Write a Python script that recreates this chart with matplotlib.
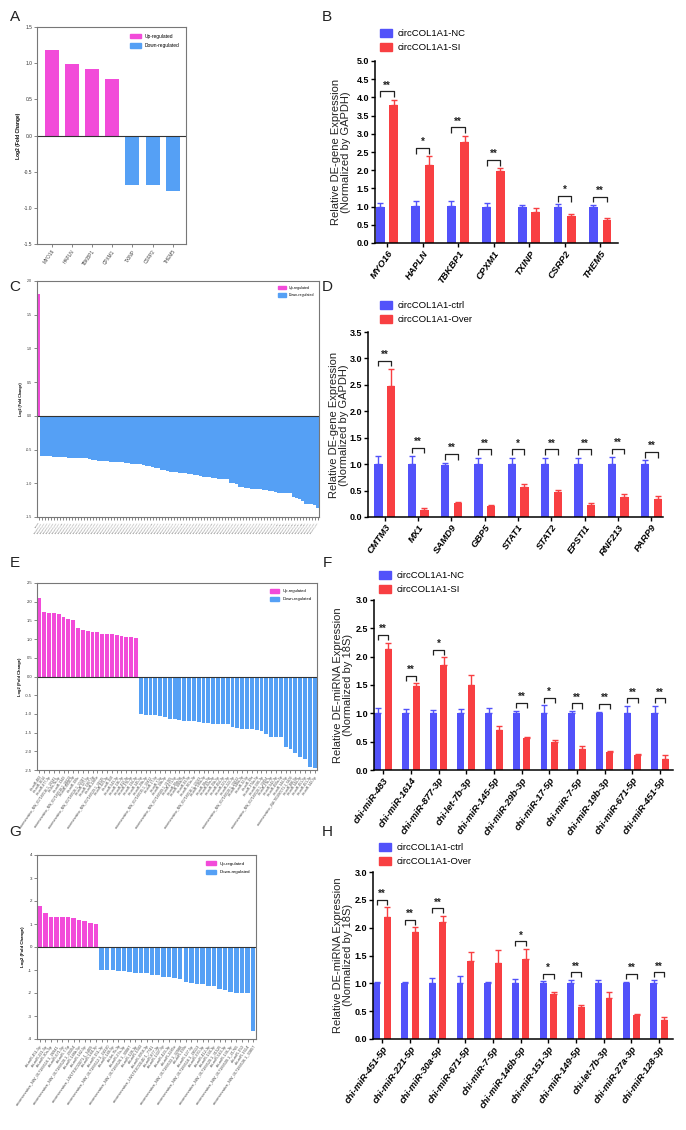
import matplotlib
matplotlib.use("Agg")
import matplotlib.pyplot as plt
from matplotlib.patches import Patch
import numpy as np

plt.rcParams['font.family'] = ['Liberation Sans', 'DejaVu Sans']

# ---------------- DATA ----------------
# Panel A
A_genes = ["MYO16", "HAPLN", "TBKBP1", "CPXM1", "TXINP", "CSRP2", "THEM5"]
A_log2fc = [1.18, 0.99, 0.92, 0.78, -0.68, -0.69, -0.77]

# Panel B
B_genes = ["MYO16", "HAPLN", "TBKBP1", "CPXM1", "TXINP", "CSRP2", "THEM5"]
B_nc = [1.0, 1.01, 1.01, 1.0, 1.0, 1.0, 1.0]
B_nc_err = [0.10, 0.14, 0.14, 0.11, 0.05, 0.06, 0.05]
B_si = [3.79, 2.15, 2.77, 1.98, 0.85, 0.74, 0.64]
B_si_err = [0.15, 0.23, 0.18, 0.07, 0.10, 0.06, 0.04]
B_sig = ["**", "*", "**", "**", "", "*", "**"]
B_groups = ["circCOL1A1-NC", "circCOL1A1-SI"]

# Panel C
C_up = [1.81]
C_down = [-0.59, -0.60, -0.60, -0.60, -0.61, -0.61, -0.61, -0.61, -0.61, -0.62,
          -0.62, -0.62, -0.62, -0.63, -0.63, -0.63, -0.64, -0.65, -0.66, -0.67,
          -0.67, -0.67, -0.67, -0.68, -0.68, -0.68, -0.69, -0.69, -0.70, -0.70,
          -0.71, -0.71, -0.72, -0.72, -0.73, -0.74, -0.75, -0.76, -0.77, -0.78,
          -0.80, -0.81, -0.82, -0.83, -0.84, -0.84, -0.85, -0.85, -0.85, -0.86,
          -0.86, -0.87, -0.88, -0.89, -0.90, -0.91, -0.91, -0.92, -0.92, -0.93,
          -0.93, -0.93, -0.94, -0.99, -1.00, -1.01, -1.05, -1.06, -1.07, -1.07,
          -1.08, -1.08, -1.08, -1.09, -1.10, -1.10, -1.11, -1.12, -1.13, -1.14,
          -1.14, -1.14, -1.14, -1.15, -1.20, -1.22, -1.24, -1.27, -1.30, -1.31,
          -1.31, -1.32, -1.36]
C_labels = ["CMTM3"] + ["novel_gene_%03d" % (k + 1) for k in range(len(C_down))]

# Panel D
D_genes = ["CMTM3", "MX1", "SAMD9", "GBP5", "STAT1", "STAT2", "EPSTI1", "RNF213", "PARP9"]
D_ctrl = [1.0, 1.0, 0.99, 1.0, 1.0, 1.0, 1.0, 1.0, 1.0]
D_ctrl_err = [0.15, 0.15, 0.04, 0.12, 0.12, 0.12, 0.12, 0.13, 0.07]
D_over = [2.47, 0.14, 0.27, 0.21, 0.56, 0.47, 0.23, 0.38, 0.35]
D_over_err = [0.33, 0.03, 0.02, 0.02, 0.07, 0.05, 0.03, 0.06, 0.04]
D_sig = ["**", "**", "**", "**", "*", "**", "**", "**", "**"]
D_groups = ["circCOL1A1-ctrl", "circCOL1A1-Over"]

# Panel E
E_up = [2.11, 1.73, 1.70, 1.70, 1.67, 1.59, 1.54, 1.51, 1.30, 1.25, 1.21,
        1.19, 1.18, 1.14, 1.14, 1.13, 1.11, 1.09, 1.06, 1.05, 1.04]
E_down = [-1.00, -1.02, -1.03, -1.04, -1.06, -1.07, -1.13, -1.13, -1.16, -1.18,
          -1.19, -1.20, -1.21, -1.23, -1.24, -1.26, -1.28, -1.28, -1.28, -1.34,
          -1.37, -1.41, -1.41, -1.41, -1.43, -1.45, -1.55, -1.63, -1.63, -1.63,
          -1.88, -1.93, -2.05, -2.14, -2.21, -2.42, -2.45]
E_labels = ["chi-miR-483", "chi-miR-1614", "chi-miR-877-3p", "unconservative_NW_017189516.1_26941",
            "chi-let-7b-3p", "chi-miR-1343", "unconservative_NW_017189518.1_28113", "chi-miR-3958-3p",
            "chi-miR-199c", "unconservative_NW_017189526.1_30087", "chi-miR-127-5p", "chi-miR-1307-5p",
            "chi-miR-2285e", "unconservative_NW_017189529.1_31525", "chi-miR-423-3p", "chi-miR-150",
            "chi-miR-543-3p", "chi-miR-136-3p", "chi-miR-412-3p", "chi-miR-370-3p", "chi-miR-134-3p",
            "chi-miR-145-5p", "chi-miR-29b-3p", "unconservative_NW_017189535.1_33412", "chi-miR-17-5p",
            "chi-miR-7-5p", "chi-miR-19b-3p", "unconservative_NW_017189509.1_21765", "chi-miR-671-5p",
            "chi-miR-20a-5p", "chi-miR-106b-5p", "chi-miR-93-5p", "chi-miR-301a-3p",
            "unconservative_NW_017189516.1_27013", "chi-miR-130a-3p", "chi-miR-18a-5p", "chi-miR-92a-3p",
            "chi-miR-15b-5p", "chi-miR-454-3p", "chi-miR-221-3p", "chi-miR-222-3p",
            "unconservative_NW_017189520.1_29312", "chi-miR-148a-3p", "chi-miR-32-5p", "chi-miR-19a",
            "chi-miR-374a-5p", "chi-miR-590-3p", "unconservative_NW_017189520.1_29354", "chi-miR-27b-3p",
            "chi-miR-542-3p", "chi-miR-450a-5p", "chi-miR-144-5p", "unconservative_LWLT01000071.1_5409",
            "chi-miR-486-5p", "chi-miR-144-3p", "chi-miR-451-5p", "chi-miR-451-3p", "chi-miR-142-5p"]

# Panel F
F_mirs = ["chi-miR-483", "chi-miR-1614", "chi-miR-877-3p", "chi-let-7b-3p", "chi-miR-145-5p",
          "chi-miR-29b-3p", "chi-miR-17-5p", "chi-miR-7-5p", "chi-miR-19b-3p",
          "chi-miR-671-5p", "chi-miR-451-5p"]
F_nc = [1.0, 1.0, 1.0, 1.0, 1.0, 1.0, 1.01, 1.0, 1.0, 1.01, 1.01]
F_nc_err = [0.10, 0.08, 0.06, 0.08, 0.09, 0.05, 0.13, 0.04, 0.03, 0.12, 0.12]
F_si = [2.14, 1.48, 1.85, 1.50, 0.70, 0.56, 0.50, 0.37, 0.31, 0.26, 0.20]
F_si_err = [0.11, 0.05, 0.14, 0.17, 0.08, 0.03, 0.03, 0.05, 0.03, 0.03, 0.07]
F_sig = ["**", "**", "*", "", "", "**", "*", "**", "**", "**", "**"]

# Panel G
G_up = [1.80, 1.47, 1.31, 1.31, 1.31, 1.31, 1.27, 1.17, 1.15, 1.04, 1.02]
G_down = [-1.01, -1.01, -1.02, -1.05, -1.05, -1.08, -1.12, -1.12, -1.15, -1.21,
          -1.21, -1.31, -1.31, -1.34, -1.41, -1.53, -1.58, -1.60, -1.61, -1.70,
          -1.70, -1.84, -1.86, -1.94, -2.00, -2.00, -2.00, -3.67]
G_labels = ["chi-miR-451-5p", "chi-miR-221-5p", "chi-miR-30a-5p", "unconservative_NW_017189516.1_26941",
            "chi-miR-671-5p", "chi-miR-7-5p", "unconservative_NW_017189520.1_29354", "chi-miR-146b-5p",
            "chi-miR-142-5p", "unconservative_LWLT01000071.1_5409", "chi-miR-144-3p",
            "chi-miR-151-3p", "unconservative_NW_017189512.1_24310", "chi-miR-149-5p", "chi-let-7b-3p",
            "chi-miR-27a-3p", "unconservative_NW_017189526.1_30087", "chi-miR-128-3p", "chi-miR-1343",
            "chi-miR-3958-3p", "unconservative_LWLT01000140.1_7741", "chi-miR-877-3p", "chi-miR-1307-5p",
            "chi-miR-423-3p", "chi-miR-2285e", "unconservative_NW_017189533.1_32980", "chi-miR-199c",
            "chi-miR-127-5p", "unconservative_NW_017189518.1_28113", "chi-miR-370-3p", "chi-miR-412-3p",
            "chi-miR-134-3p", "unconservative_NW_017189529.1_31525", "chi-miR-543-3p", "chi-miR-136-3p",
            "unconservative_NW_017189509.1_21765", "chi-miR-150", "chi-miR-1614",
            "unconservative_NW_017189536.1_33857"]

# Panel H
H_mirs = ["chi-miR-451-5p", "chi-miR-221-5p", "chi-miR-30a-5p", "chi-miR-671-5p", "chi-miR-7-5p",
          "chi-miR-146b-5p", "chi-miR-151-3p", "chi-miR-149-5p", "chi-let-7b-3p",
          "chi-miR-27a-3p", "chi-miR-128-3p"]
H_ctrl = [1.0, 1.0, 1.0, 1.01, 1.0, 1.0, 1.0, 1.0, 1.0, 1.0, 1.0]
H_ctrl_err = [0.03, 0.03, 0.10, 0.12, 0.03, 0.07, 0.04, 0.06, 0.06, 0.03, 0.06]
H_over = [2.20, 1.92, 2.11, 1.41, 1.37, 1.43, 0.80, 0.58, 0.74, 0.43, 0.34]
H_over_err = [0.17, 0.09, 0.10, 0.16, 0.23, 0.19, 0.05, 0.03, 0.11, 0.02, 0.06]
H_sig = ["**", "**", "**", "", "", "*", "*", "**", "", "**", "**"]

# ---------------- STYLE ----------------
UP = "#F24BD9"
DOWN = "#55A0F5"
BLUE = "#5252FA"
RED = "#F83F42"

W, H = 686, 1130
fig = plt.figure(figsize=(W / 100, H / 100), dpi=100)


def rect(x0, y0, x1, y1):
    return [x0 / W, 1 - y1 / H, (x1 - x0) / W, (y1 - y0) / H]


def fmt_tick(t, decimals):
    return ("%." + str(decimals) + "f") % t


def log2_panel(pos, labels, up, down, yticks, decimals, xlim, bw, tick_fs, lab_fs,
               leg_fs=3.5, ylab_fs=3.5):
    ax = fig.add_axes(pos)
    vals = list(up) + list(down)
    n = len(vals)
    x = np.arange(n)
    colors = [UP] * len(up) + [DOWN] * len(down)
    ax.bar(x, vals, width=bw, color=colors, edgecolor='none')
    ax.axhline(0, color='#333333', lw=0.8)
    ax.set_ylim(yticks[0], yticks[-1])
    ax.set_xlim(*xlim)
    ax.set_yticks(yticks)
    ax.set_yticklabels([fmt_tick(t, decimals) for t in yticks], fontsize=tick_fs, color='#333333')
    ax.set_xticks(x)
    labs = list(labels)[:n] + [""] * max(0, n - len(labels))
    ax.set_xticklabels(labs, rotation=55, ha='right', rotation_mode='anchor',
                       fontsize=lab_fs, color='#444444')
    for s in ax.spines.values():
        s.set_color('#777777')
        s.set_linewidth(0.8)
    ax.tick_params(axis='both', length=2, width=0.5, pad=1.5, color='#555555')
    ax.set_ylabel("Log2 (Fold Change)", fontsize=ylab_fs, fontweight='bold', labelpad=2)
    handles = [Patch(color=UP, label="Up-regulated"), Patch(color=DOWN, label="Down-regulated")]
    ax.legend(handles=handles, loc='upper right', fontsize=leg_fs, frameon=False,
              handlelength=2.2, handleheight=1.0, labelspacing=0.9, borderaxespad=1.0)
    return ax


def group_panel(pos, labels, a, a_err, b, b_err, sig, ylim, ystep, xlim, ylab,
                legend_labels, leg_xy):
    ax = fig.add_axes(pos)
    n = len(labels)
    x = np.arange(n)
    off = 0.19
    bw = 0.25
    ax.bar(x - off, a, width=bw, color=BLUE, edgecolor='none')
    ax.bar(x + off, b, width=bw, color=RED, edgecolor='none')
    ax.errorbar(x - off, a, yerr=[np.zeros(n), a_err], fmt='none', ecolor=BLUE,
                elinewidth=1.0, capsize=2.2, capthick=1.0)
    ax.errorbar(x + off, b, yerr=[np.zeros(n), b_err], fmt='none', ecolor=RED,
                elinewidth=1.0, capsize=2.2, capthick=1.0)
    ymax = ylim[1]
    for i in range(n):
        if not sig[i]:
            continue
        top = max(a[i] + a_err[i], b[i] + b_err[i])
        yb = top + 0.045 * ymax
        d = 0.03 * ymax
        ax.plot([i - off, i - off, i + off, i + off], [yb - d, yb, yb, yb - d],
                color='#222222', lw=0.9, solid_capstyle='butt')
        ax.text(i, yb + 0.005 * ymax, sig[i], ha='center', va='bottom', fontsize=7,
                fontweight='bold', color='#222222')
    ax.set_ylim(*ylim)
    ax.set_xlim(*xlim)
    yt = np.arange(0, ylim[1] + 1e-6, ystep)
    ax.set_yticks(yt)
    ax.set_yticklabels(["%.1f" % t for t in yt], fontsize=6.5, fontweight='bold')
    ax.set_xticks(x)
    ax.set_xticklabels(labels, rotation=55, ha='right', rotation_mode='anchor',
                       fontsize=6.8, fontweight='bold', fontstyle='italic')
    for s in ['top', 'right']:
        ax.spines[s].set_visible(False)
    for s in ['left', 'bottom']:
        ax.spines[s].set_linewidth(1.1)
    ax.tick_params(axis='both', length=3, width=1.0, pad=1.2)
    handles = [Patch(color=BLUE, label=legend_labels[0]), Patch(color=RED, label=legend_labels[1])]
    fig.legend(handles=handles, loc='upper left', bbox_to_anchor=(leg_xy[0] / W, 1 - leg_xy[1] / H),
               fontsize=6.8, frameon=False, handlelength=1.3, handleheight=0.9,
               labelspacing=0.55, borderpad=0, handletextpad=0.6)
    fig.text(leg_xy[2] / W, 1 - leg_xy[3] / H, ylab, rotation=90, ha='center', va='center',
             fontsize=8.0, linespacing=1.0, color='#222222')
    return ax


# ---------------- PANELS ----------------
log2_panel(rect(37, 27, 186, 244), A_genes, A_log2fc[:4], A_log2fc[4:],
           [-1.5, -1.0, -0.5, 0.0, 0.5, 1.0, 1.5], 1, (-0.72, 6.65), 0.69, 3.5, 3.4)

group_panel(rect(375, 61, 618, 243), B_genes, B_nc, B_nc_err, B_si, B_si_err, B_sig,
            (0, 5.0), 0.5, (-0.34, 6.5),
            "Relative DE-gene Expression\n(Normalized by GAPDH)", B_groups, (375, 24, 341, 152))

log2_panel(rect(37, 281, 319, 517), C_labels, C_up, C_down,
           [-1.5, -1.0, -0.5, 0.0, 0.5, 1.0, 1.5, 2.0], 1,
           (-0.5, len(C_up) + len(C_down) - 0.5), 0.8, 2.6, 1.4, leg_fs=2.6, ylab_fs=2.6)

group_panel(rect(368, 332, 663, 517), D_genes, D_ctrl, D_ctrl_err, D_over, D_over_err, D_sig,
            (0, 3.5), 0.5, (-0.5, 8.35),
            "Relative DE-gene Expression\n(Normalized by GAPDH)", D_groups, (375, 296, 339, 425))

log2_panel(rect(37, 583, 317, 770), E_labels, E_up, E_down,
           [-2.5, -2.0, -1.5, -1.0, -0.5, 0.0, 0.5, 1.0, 1.5, 2.0, 2.5], 1,
           (-0.5, len(E_up) + len(E_down) - 0.5), 0.8, 3.0, 2.4, leg_fs=3.0, ylab_fs=3.0)

group_panel(rect(374, 600, 673, 770), F_mirs, F_nc, F_nc_err, F_si, F_si_err, F_sig,
            (0, 3.0), 0.5, (-0.33, 10.47),
            "Relative DE-miRNA Expression\n(Normalized by 18S)", B_groups, (374, 566, 343, 685))

log2_panel(rect(37, 855, 256, 1039), G_labels, G_up, G_down,
           [-4, -3, -2, -1, 0, 1, 2, 3, 4], 0,
           (-0.5, len(G_up) + len(G_down) - 0.5), 0.8, 3.2, 2.8, leg_fs=3.2, ylab_fs=3.2)

group_panel(rect(373, 872, 673, 1039), H_mirs, H_ctrl, H_ctrl_err, H_over, H_over_err, H_sig,
            (0, 3.0), 0.5, (-0.33, 10.5),
            "Relative DE-miRNA Expression\n(Normalized by 18S)", D_groups, (374, 838, 343, 955))

# panel letters
for letter, (px, py) in zip("ABCDEFGH", [(15, 17), (327, 17), (15, 287), (327, 287),
                                         (15, 563), (327, 563), (15, 832), (327, 832)]):
    fig.text(px / W, 1 - py / H, letter, fontsize=11, ha='center', va='center',
             family=['Liberation Sans Narrow', 'Liberation Sans'], color='#222222')

fig.savefig("out.png", dpi=100)
